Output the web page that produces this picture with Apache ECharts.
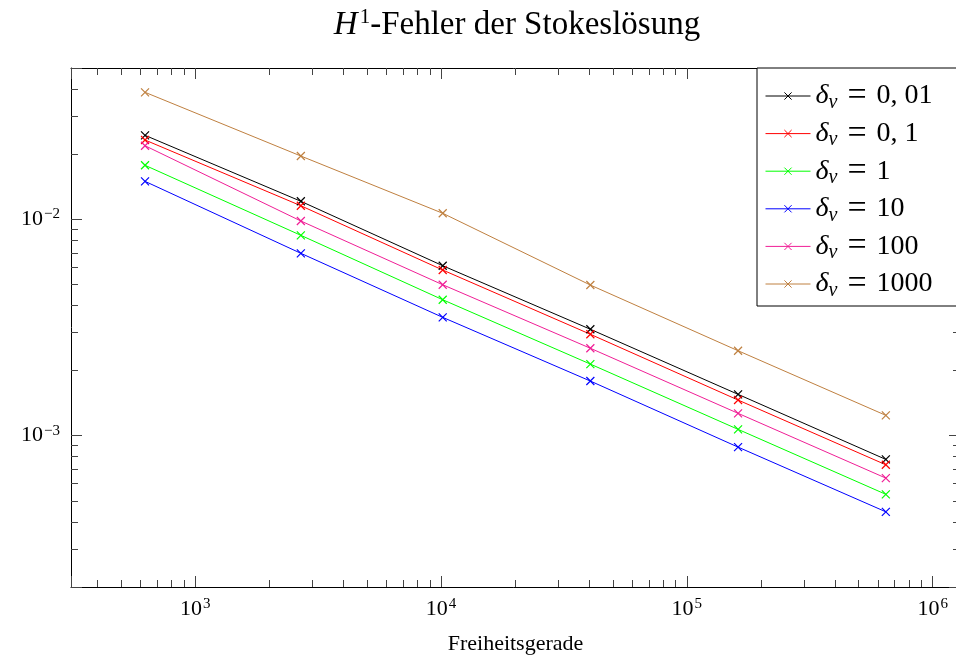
<!DOCTYPE html>
<html>
<head>
<meta charset="utf-8">
<script src="https://cdn.jsdelivr.net/npm/echarts@6.0.0/dist/echarts.min.js"></script>
<style>html,body{margin:0;padding:0;background:#fff}#chart{width:956px;height:658px}</style>
</head>
<body>
<div id="chart"></div>
<script>
// ---- data ----
const dof = [625, 2690, 10160, 40500, 161600, 645000];
const deltaLabels = ['0, 01', '0, 1', '1', '10', '100', '1000'];
const err_0_01 = [0.02443, 0.01211, 0.006102, 0.003104, 0.001553, 0.000777];
const err_0_1  = [0.02324, 0.01155, 0.005829, 0.002943, 0.001462, 0.000734];
const err_1    = [0.01776, 0.008432, 0.004249, 0.002143, 0.001070, 0.000536];
const err_10   = [0.01497, 0.006963, 0.003523, 0.001789, 0.000886, 0.000445];
const err_100  = [0.02187, 0.00982, 0.004984, 0.002536, 0.001269, 0.000637];
const err_1000 = [0.03861, 0.01960, 0.01066, 0.004968, 0.002470, 0.001242];
const xRange = [312.4, 1.292e6];
const yRange = [2e-4, 5e-2];
const seriesValues = [err_0_01, err_0_1, err_1, err_10, err_100, err_1000];
const colors = ['#000000', '#ff0000', '#00ff00', '#0000ff', '#f01e96', '#bf8040'];

const FONT = 'Liberation Serif';
const X_SYMBOL = 'path://M0,0L10,10M0,10L10,0';

function powLabel(v) {
  const e = Math.log10(v);
  const r = Math.round(e);
  if (Math.abs(e - r) > 1e-6) return '';
  return '{b|10}{s|' + (r < 0 ? '\u2212' + (-r) : r) + '}';
}
const labelRich = {
  b: {fontFamily: FONT, fontSize: 22, lineHeight: 26, color: '#000'},
  s: {fontFamily: FONT, fontSize: 15, lineHeight: 15, padding: [0, 0, 10, 1], color: '#000'}
};

function makeAxis(kind, position, showLabel, extra) {
  const rng = kind === 'x' ? xRange : yRange;
  return Object.assign({
    type: 'log',
    logBase: 10,
    min: rng[0],
    max: rng[1],
    position: position,
    gridIndex: 0,
    axisLine: {show: true, onZero: false, lineStyle: {color: '#000', width: 1}},
    axisTick: {show: true, inside: true, length: 11, lineStyle: {color: '#444', width: 1}},
    minorTick: {show: true, splitNumber: 9, length: 7, lineStyle: {color: '#444', width: 1}},
    splitLine: {show: false},
    minorSplitLine: {show: false},
    axisLabel: {
      show: showLabel,
      formatter: powLabel,
      showMinLabel: false,
      showMaxLabel: false,
      rich: labelRich,
      margin: kind === 'x' ? 9 : 11
    }
  }, extra || {});
}

const series = seriesValues.map((vals, i) => ({
  name: 'δν = ' + deltaLabels[i],
  type: 'line',
  xAxisIndex: 0,
  yAxisIndex: 0,
  data: dof.map((x, j) => [x, vals[j]]),
  symbol: X_SYMBOL,
  symbolSize: 8,
  showSymbol: true,
  lineStyle: {color: colors[i], width: 1},
  itemStyle: {color: colors[i], borderColor: colors[i], borderWidth: 1.2},
  emphasis: {disabled: true},
  animation: false
}));

const legendMap = {};
deltaLabels.forEach(l => { legendMap['δν = ' + l] = '{d|δ}{v|ν}{e|=}{n|' + l + '}'; });

const chart = echarts.init(document.getElementById('chart'), null, {renderer: 'canvas'});
chart.setOption({
  backgroundColor: '#fff',
  animation: false,
  title: {
    text: '{i|H}{s|1}{n|-Fehler der Stokeslösung}',
    left: 517,
    top: 7,
    padding: 0,
    textAlign: 'center',
    textStyle: {
      fontFamily: FONT, fontSize: 33, fontWeight: 'normal', color: '#000', lineHeight: 36,
      rich: {
        i: {fontFamily: FONT, fontSize: 33, fontStyle: 'italic', lineHeight: 36, color: '#000'},
        s: {fontFamily: FONT, fontSize: 21, lineHeight: 21, padding: [0, 0, 16, 2], color: '#000'},
        n: {fontFamily: FONT, fontSize: 33, lineHeight: 36, color: '#000'}
      }
    }
  },
  grid: {left: 71, top: 68, width: 889, height: 519, containLabel: false, outerBoundsMode: 'none'},
  xAxis: [
    makeAxis('x', 'bottom', true, {
      name: 'Freiheitsgerade',
      nameLocation: 'middle',
      nameGap: 46,
      nameTextStyle: {fontFamily: FONT, fontSize: 22, color: '#000'}
    }),
    makeAxis('x', 'top', false)
  ],
  yAxis: [
    makeAxis('y', 'left', true),
    makeAxis('y', 'right', false)
  ],
  legend: {
    orient: 'vertical',
    left: 757,
    top: 68,
    padding: [11, 40, 5, 8],
    backgroundColor: '#fff',
    borderColor: '#000',
    borderWidth: 1,
    borderRadius: 0,
    itemWidth: 45,
    itemHeight: 9,
    itemGap: 3.6,
    selectedMode: false,
    lineStyle: {width: 1},
    itemStyle: {borderWidth: 1},
    data: series.map(s => s.name),
    formatter: name => legendMap[name],
    textStyle: {
      fontFamily: FONT, fontSize: 28, color: '#000',
      rich: {
        d: {fontFamily: FONT, fontSize: 28, fontStyle: 'italic', lineHeight: 30, color: '#000'},
        v: {fontFamily: FONT, fontSize: 20, fontStyle: 'italic', lineHeight: 20, padding: [13, 0, 0, 0], color: '#000'},
        e: {fontFamily: FONT, fontSize: 34, lineHeight: 30, padding: [0, 10, 0, 10], color: '#000'},
        n: {fontFamily: FONT, fontSize: 28, lineHeight: 30, color: '#000'}
      }
    }
  },
  series: series
});
</script>
</body>
</html>
